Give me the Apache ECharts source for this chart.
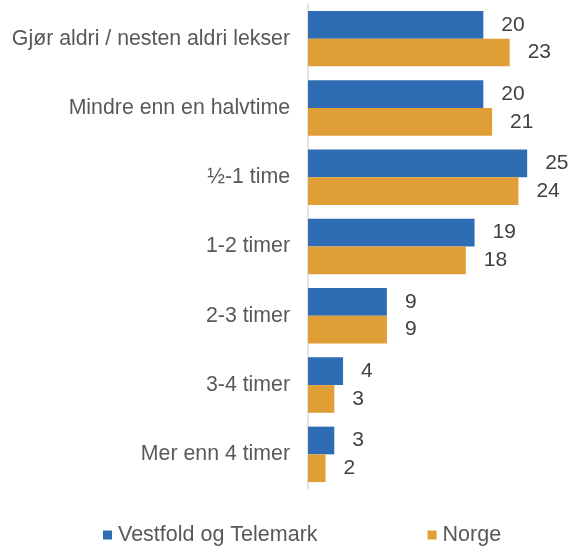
<!DOCTYPE html>
<html>
<head>
<meta charset="utf-8">
<script src="https://cdn.jsdelivr.net/npm/echarts@6/dist/echarts.min.js"></script>
<style>
  html, body { margin: 0; padding: 0; background: #ffffff; }
  #chart { width: 580px; height: 548px; }
</style>
</head>
<body>
<div id="chart"></div>
<script>
// Time spent on homework (percent)
const categories = [
  'Gjør aldri / nesten aldri lekser',
  'Mindre enn en halvtime',
  '½-1 time',
  '1-2 timer',
  '2-3 timer',
  '3-4 timer',
  'Mer enn 4 timer'
];
const vestfoldTelemark = [20, 20, 25, 19, 9, 4, 3];
const norge = [23, 21, 24, 18, 9, 3, 2];

const seriesNames = ['Vestfold og Telemark', 'Norge'];
const colors = ['#2E6DB4', '#E09E36'];

const FONT = 'Liberation Sans, Arial, sans-serif';

const chart = echarts.init(document.getElementById('chart'), null, { renderer: 'canvas' });

const labelStyle = {
  show: true,
  position: 'right',
  distance: 18,
  color: '#404040',
  fontSize: 21,
  fontFamily: FONT
};

chart.setOption({
  animation: false,
  backgroundColor: '#ffffff',
  grid: { left: 308, right: 9, top: 4, bottom: 59, containLabel: false },
  xAxis: {
    type: 'value',
    min: 0,
    max: 30,
    show: false
  },
  yAxis: {
    type: 'category',
    inverse: true,
    data: categories,
    axisLine: { show: true, lineStyle: { color: '#D9D9D9', width: 1.5 } },
    axisTick: { show: false },
    axisLabel: {
      margin: 18,
      color: '#595959',
      fontSize: 21.3,
      fontFamily: FONT
    },
    splitLine: { show: false }
  },
  legend: {
    left: 98,
    top: 519,
    itemWidth: 9,
    itemHeight: 9,
    itemGap: 110,
    icon: 'rect',
    textStyle: {
      color: '#595959',
      fontSize: 21.5,
      fontFamily: FONT,
      padding: [0, 0, 0, 1]
    },
    data: seriesNames
  },
  series: [
    {
      name: seriesNames[0],
      type: 'bar',
      data: vestfoldTelemark,
      barCategoryGap: '20%',
      barGap: '0%',
      itemStyle: { color: colors[0] },
      label: labelStyle
    },
    {
      name: seriesNames[1],
      type: 'bar',
      data: norge,
      barCategoryGap: '20%',
      barGap: '0%',
      itemStyle: { color: colors[1] },
      label: labelStyle
    }
  ]
});
</script>
</body>
</html>
